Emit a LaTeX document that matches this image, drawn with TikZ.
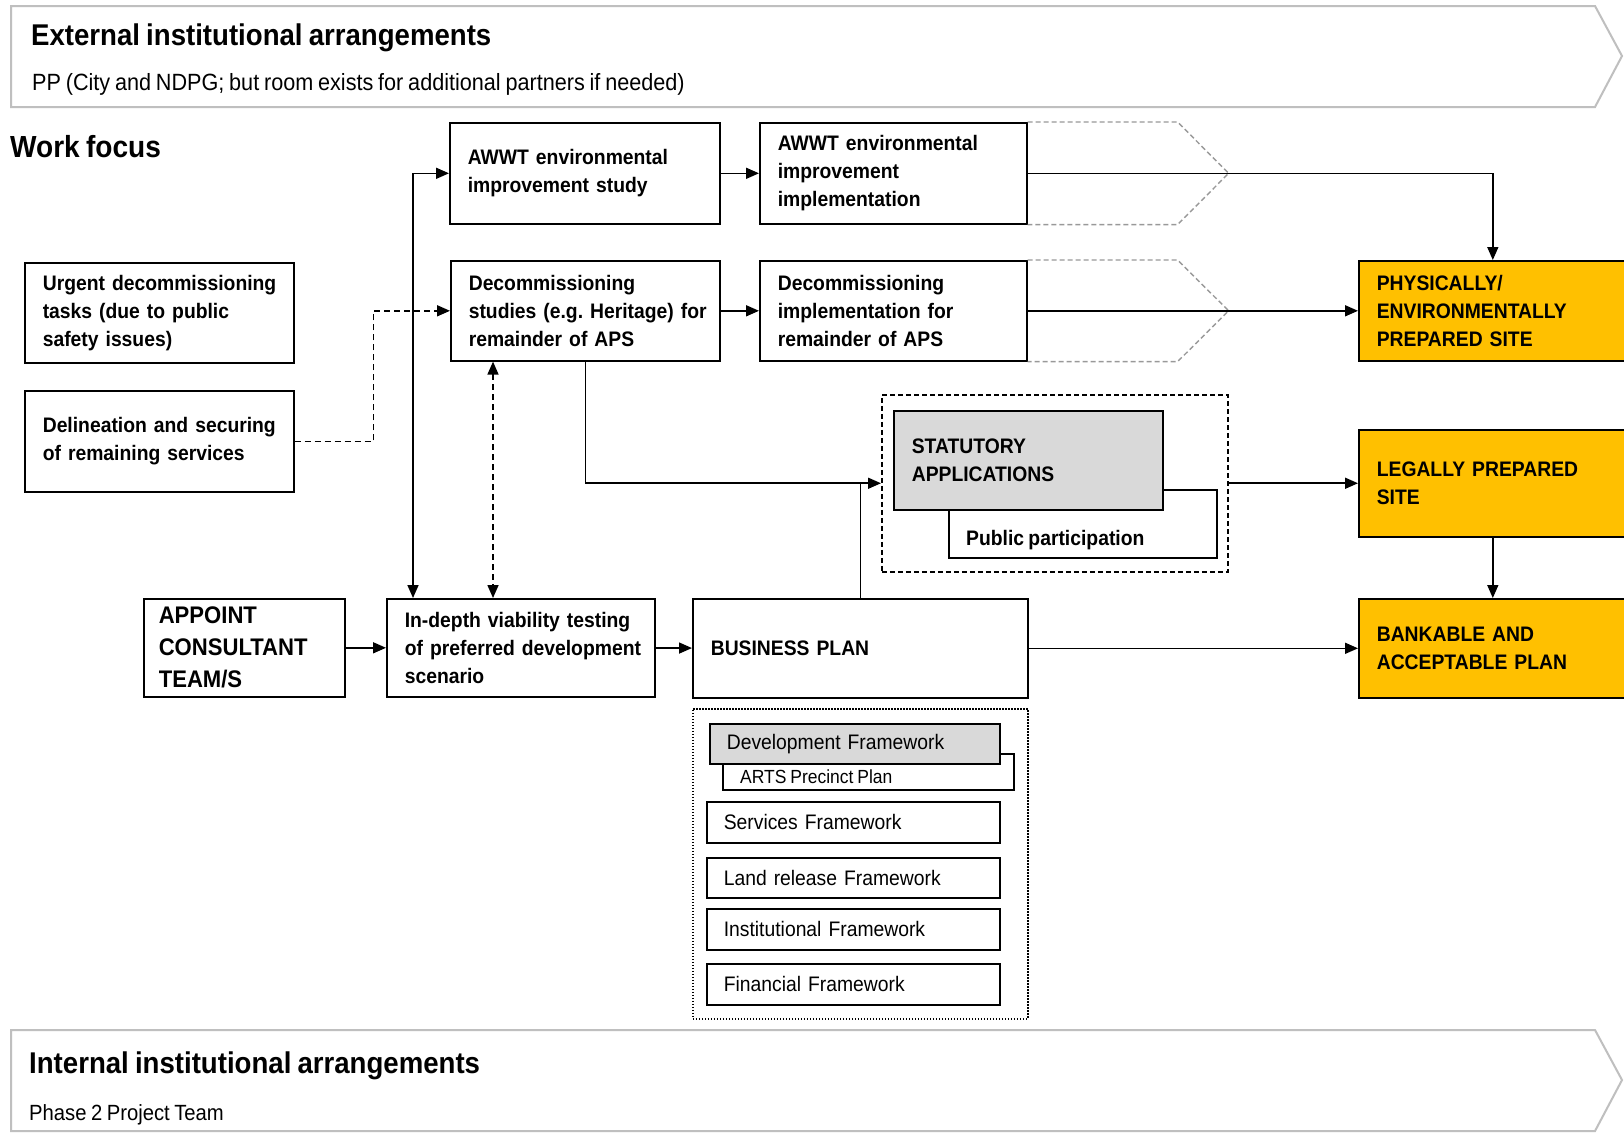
\documentclass[tikz,border=0pt]{standalone}
\usepackage{fontspec}
\setmainfont{Liberation Sans}[FakeStretch=0.92,WordSpace=0.8]
\usetikzlibrary{arrows.meta}
\definecolor{gold}{HTML}{FFC000}
\definecolor{lgray}{HTML}{D9D9D9}
\definecolor{bgray}{HTML}{BFBFBF}
\definecolor{cgray}{HTML}{999999}
\begin{document}
\begin{tikzpicture}[x=1pt,y=-1pt,
  bx/.style={draw, line width=1.6pt, inner xsep=18pt, inner ysep=0pt, align=left, anchor=north west, font=\bfseries\fontsize{21}{28}\selectfont, execute at begin node={\rightskip=0pt plus 1fil minus 80pt\hyphenpenalty=10000\frenchspacing\relax}},
  fw/.style={draw, line width=1.6pt, inner xsep=17pt, inner ysep=0pt, align=left, anchor=north west, font=\fontsize{21}{28}\selectfont},
  goal/.style={bx, fill=gold},
  conn/.style={line width=1.6pt, -{Triangle[length=13pt,width=11pt]}},
  biconn/.style={line width=1.6pt, {Triangle[length=13pt,width=11pt]}-{Triangle[length=13pt,width=11pt]}},
  plain/.style={line width=1.6pt},
  chev/.style={cgray, line width=1.4pt, dash pattern=on 5pt off 3pt},
  banner/.style={bgray, line width=2pt},
  ttl/.style={anchor=base west, inner sep=0pt, font=\bfseries\fontsize{30}{34}\selectfont},
  sub/.style={anchor=base west, inner sep=0pt, font=\fontsize{22}{26}\selectfont},
  lbl/.style={anchor=base west, inner sep=0pt}
]
\useasboundingbox (0,0) rectangle (1624,1133);
\fill[white] (0,0) rectangle (1624,1133);

% banners
\draw[banner] (11,6) -- (1595,6) -- (1622,56) -- (1595,107) -- (11,107) -- cycle;
\node[ttl] (ext) at (31,45) {External institutional arrangements};
\node[sub, font=\fontsize{23.5}{28}\selectfont] (extsub) at (32,90) {PP (City and NDPG; but room exists for additional partners if needed)};
\draw[banner] (11,1030) -- (1595,1030) -- (1622,1080) -- (1595,1131) -- (11,1131) -- cycle;
\node[ttl] (int) at (29,1073) {Internal institutional arrangements};
\node[sub] (intsub) at (29,1120) {Phase 2 Project Team};
\node[anchor=base west, inner sep=0pt, font=\bfseries\fontsize{30.5}{34}\selectfont] (wf) at (10,157) {Work focus};

% left boxes
\node[bx, minimum width=269pt, minimum height=100pt, text width=233pt] (urgent) at (24,262) {Urgent decommissioning\\tasks (due to public\\safety issues)};
\node[bx, minimum width=269pt, minimum height=101pt, text width=233pt] (delin) at (24,390) {Delineation and securing\\of remaining services};

% top rows
\node[bx, minimum width=270pt, minimum height=101pt, text width=234pt] (study) at (449,122) {AWWT environmental\\improvement study};
\node[bx, minimum width=267pt, minimum height=101pt, text width=231pt] (impl) at (759,122) {AWWT environmental\\improvement\\implementation};
\node[bx, minimum width=269pt, minimum height=100pt, text width=233pt] (dstudy) at (450,260) {Decommissioning\\studies (e.g. Heritage) for\\remainder of APS};
\node[bx, minimum width=267pt, minimum height=100pt, text width=231pt] (dimpl) at (759,260) {Decommissioning\\implementation for\\remainder of APS};

% chevrons
\draw[chev] (impl.north east) -- ++(150,0) -- ([xshift=201pt]impl.east) -- ([xshift=150pt]impl.south east) -- (impl.south east);
\draw[chev] (dimpl.north east) -- ++(150,0) -- ([xshift=201pt]dimpl.east) -- ([xshift=150pt]dimpl.south east) -- (dimpl.south east);

% goals
\node[goal, minimum width=268pt, minimum height=100pt, text width=232pt] (phys) at (1358,260) {PHYSICALLY/\\ENVIRONMENTALLY\\PREPARED SITE};
\node[goal, minimum width=268pt, minimum height=107pt, text width=232pt] (legal) at (1358,429) {LEGALLY PREPARED\\SITE};
\node[goal, minimum width=268pt, minimum height=99pt, text width=232pt] (bank) at (1358,598) {BANKABLE AND\\ACCEPTABLE PLAN};

% statutory
\node[draw, line width=1.5pt, dash pattern=on 5pt off 3pt, anchor=north west, minimum width=346pt, minimum height=177pt, inner sep=0pt] (statout) at (881,394) {};
\node[draw, line width=1.6pt, anchor=north west, minimum width=268pt, minimum height=68pt, inner sep=0pt] (public) at (948,489) {};
\node[lbl, font=\bfseries\fontsize{21}{28}\selectfont] (publictxt) at (966,545) {Public participation};
\node[bx, fill=lgray, minimum width=269pt, minimum height=99pt, text width=233pt] (stat) at (893,410) {STATUTORY\\APPLICATIONS};

% bottom row
\node[bx, minimum width=201pt, minimum height=98pt, text width=171pt, inner xsep=15pt, font=\bfseries\fontsize{24}{32}\selectfont] (appoint) at (143,598) {APPOINT\\CONSULTANT\\TEAM/S};
\node[bx, minimum width=268pt, minimum height=98pt, text width=232pt] (indepth) at (386,598) {In-depth viability testing\\of preferred development\\scenario};
\node[bx, minimum width=335pt, minimum height=99pt, text width=299pt] (bplan) at (692,598) {BUSINESS PLAN};

% frameworks
\node[draw, line width=1.5pt, dash pattern=on 1.5pt off 1.5pt, anchor=north west, minimum width=335pt, minimum height=310pt, inner sep=0pt] (fwout) at (692,708) {};
\node[draw, line width=1.6pt, anchor=north west, minimum width=291pt, minimum height=36pt, inner sep=0pt] (arts) at (722,753) {};
\node[lbl, font=\fontsize{19}{24}\selectfont] (artstxt) at (740,783) {ARTS Precinct Plan};
\node[fw, fill=lgray, minimum width=290pt, minimum height=40pt, text width=256pt] (devfw) at (709,723) {Development Framework};
\node[fw, minimum width=293pt, minimum height=41pt, text width=259pt] (serv) at (706,801) {Services Framework};
\node[fw, minimum width=293pt, minimum height=40pt, text width=259pt] (land) at (706,857) {Land release Framework};
\node[fw, minimum width=293pt, minimum height=41pt, text width=259pt] (inst) at (706,908) {Institutional Framework};
\node[fw, minimum width=293pt, minimum height=41pt, text width=259pt] (fin) at (706,963) {Financial Framework};

% coordinates for connector ends
\coordinate (ia) at (413,598);
\coordinate (ib) at (493,598);

% connectors
\draw[conn] (study) -- (impl);
\draw[conn] (dstudy) -- (dimpl);
\draw[conn] (impl.east) -| (phys.north);
\draw[conn] (dimpl.east) -- (dimpl.east -| phys.west);
\draw[biconn] (ia) |- (study.west);
\draw[conn, dash pattern=on 6pt off 4pt] (delin.east) -- ++(79,0) |- (dstudy.west);
\draw[biconn, dash pattern=on 6pt off 4pt] (ib |- dstudy.south) -- (ib);
\draw[conn] (dstudy.south) |- (statout.west);
\draw[plain] (bplan.north) -- (bplan.north |- statout.west);
\draw[conn] (statout.east) -- (statout.east -| legal.west);
\draw[conn] (legal) -- (bank);
\draw[conn] (appoint) -- (indepth);
\draw[conn] (indepth) -- (bplan);
\draw[conn] (bplan.east) -- (bplan.east -| bank.west);
\end{tikzpicture}
\end{document}
